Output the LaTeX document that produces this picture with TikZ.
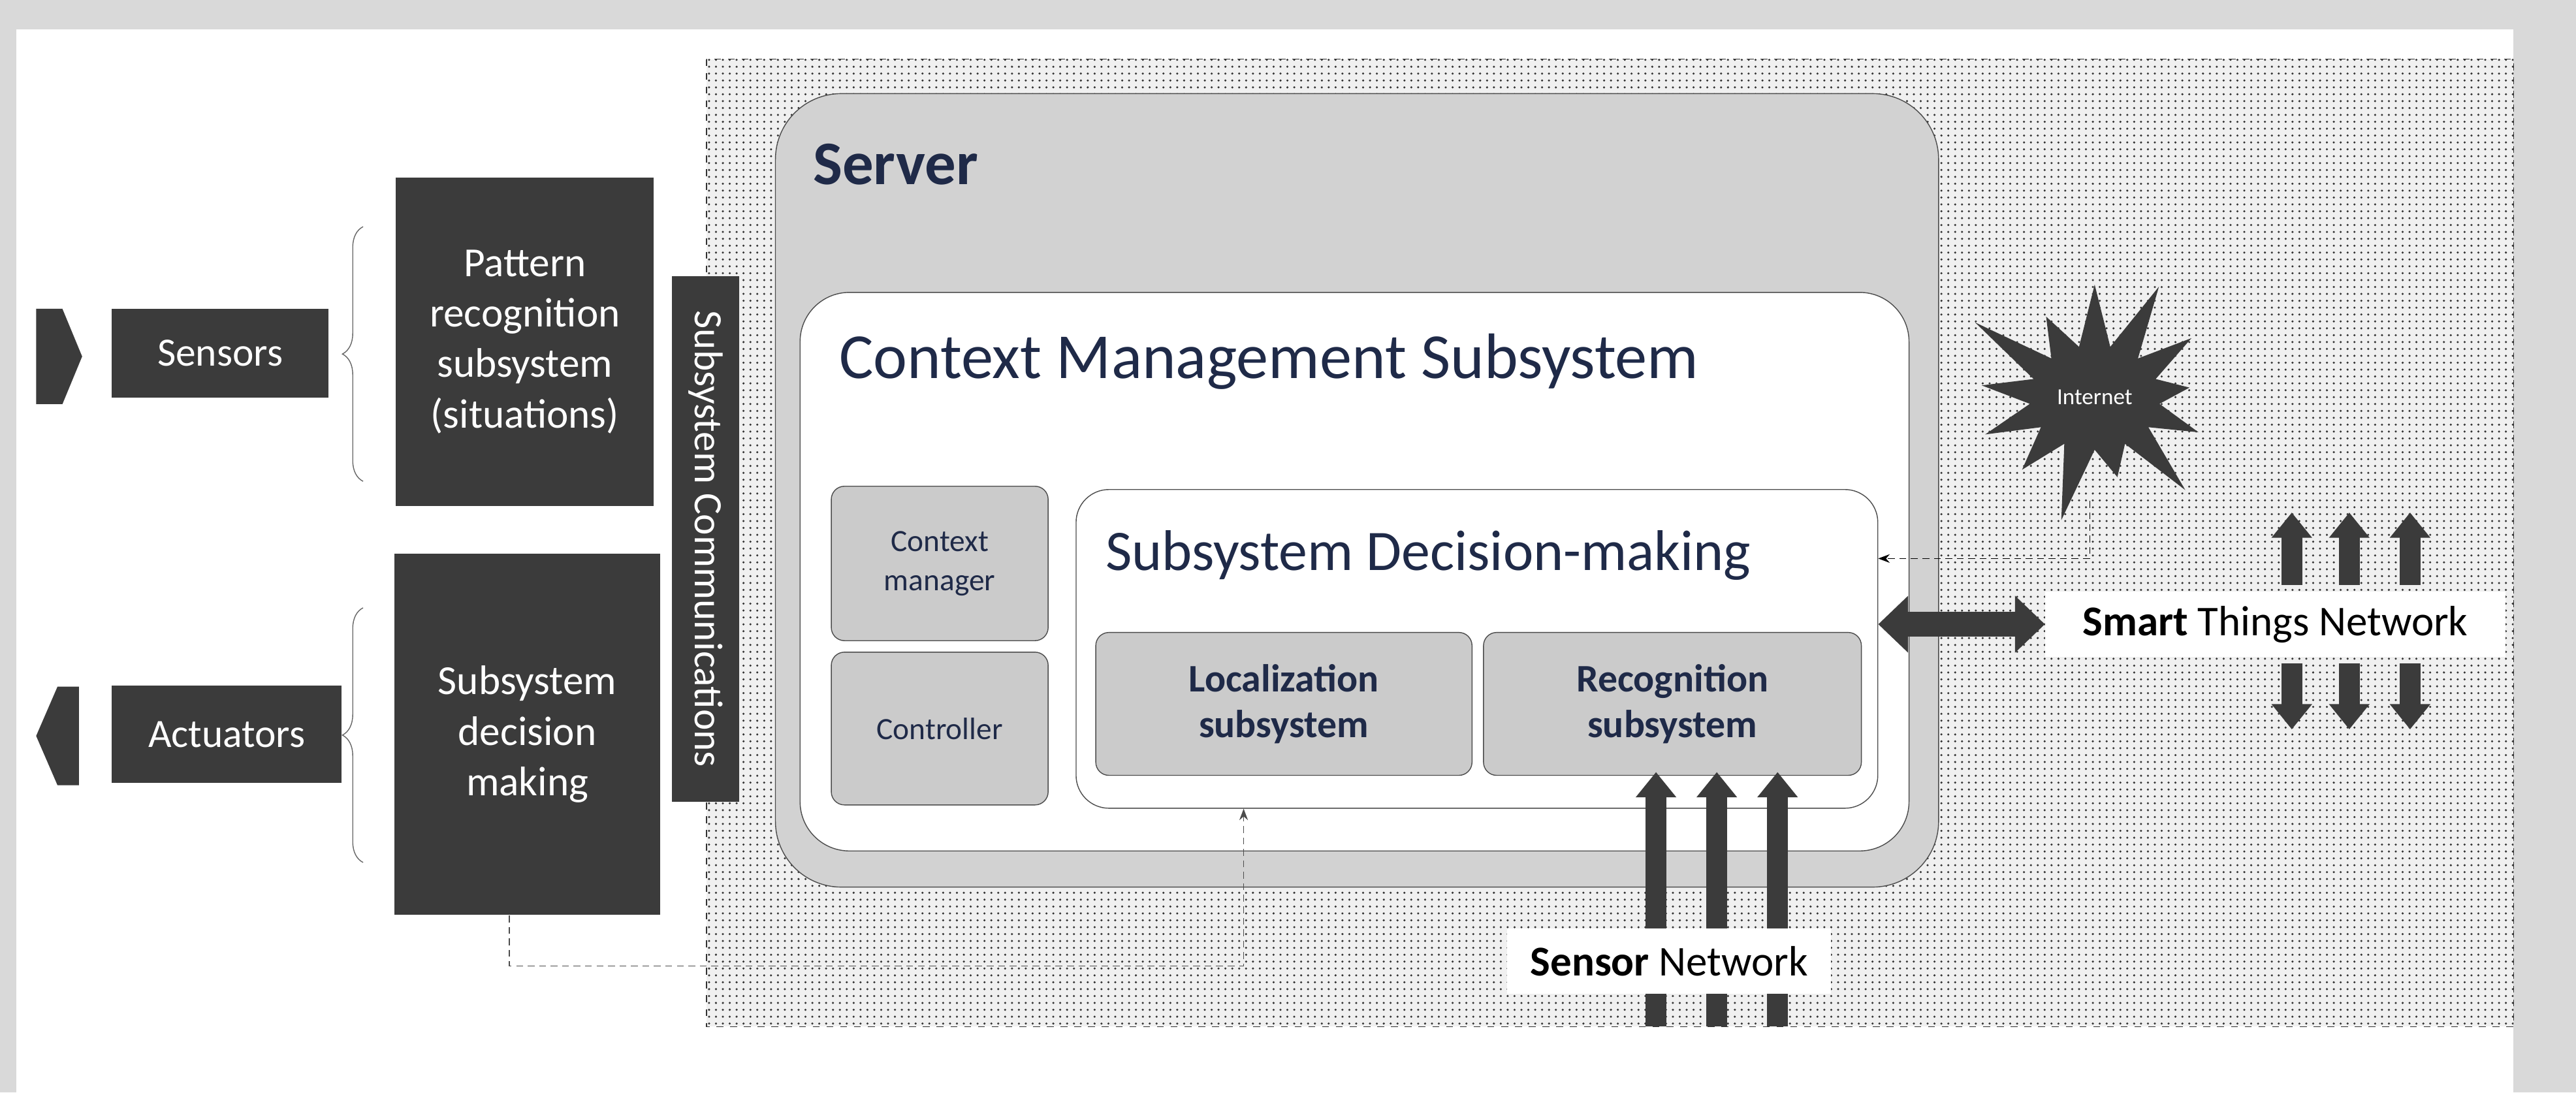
\documentclass[tikz,border=0pt]{standalone}
\usepackage{fontspec}
\setmainfont{Carlito}
\usetikzlibrary{arrows.meta,patterns,shapes.symbols,decorations.pathreplacing}
\newcommand\px{0.02516cm}
\definecolor{darkbox}{HTML}{3B3B3B}
\definecolor{navy}{HTML}{1F2A48}
\definecolor{srvgray}{HTML}{D2D2D2}
\definecolor{subgray}{HTML}{CBCBCB}

\begin{document}
\begin{tikzpicture}[x=\px,y=-\px,
    dark/.style={rectangle,fill=darkbox,text=white,align=center,inner sep=0pt},
    round/.style={rectangle,draw=black!70,rounded corners=#1,inner sep=0pt},
    sub/.style={round=8*\px,fill=subgray,align=center,text=navy},
    fat/.style={line width=9pt,-{Triangle[width=17pt,length=11pt]},draw=darkbox},
    every node/.style={font=\fontsize{17.5}{21}\selectfont}]
  % frame
  \fill[black!15] (0,0) rectangle (1568,665);
  \fill[white] (10,18) rectangle (1530,665);
  \useasboundingbox (0,0) rectangle (1568,665);
  % dotted area
  \fill[black!6] (430,36) rectangle (1530,625);
  \fill[pattern=dots,pattern color=black!80] (430,36) rectangle (1530,625);
  \draw[dashed,black!80] (430,36) rectangle (1530,625);

  % server
  \node[round=40*\px,fill=srvgray,minimum width=708*\px,minimum height=483*\px] (server) at (826,298.5) {};
  \node[anchor=west,text=navy,font=\fontsize{27}{30}\bfseries] (srvlbl) at (490,100) {Server};
  \node[round=30*\px,fill=white,minimum width=675*\px,minimum height=340*\px] (cms) at (824.5,348) {};
  \node[anchor=west,text=navy,font=\fontsize{28}{31}\selectfont] (cmslbl) at (506,220) {Context Management Subsystem};
  \node[sub,minimum width=132*\px,minimum height=94*\px,font=\fontsize{13.5}{17}\selectfont] (cmgr) at (572,343) {Context\\manager};
  \node[sub,minimum width=132*\px,minimum height=93*\px,font=\fontsize{13.5}{17}\selectfont] (ctrl) at (572,443.5) {Controller};
  \node[round=20*\px,fill=white,minimum width=488*\px,minimum height=194*\px] (sdm) at (899,395) {};
  \node[anchor=west,text=navy,font=\fontsize{25}{28}\selectfont] (sdmlbl) at (668,338) {Subsystem Decision-making};
  \node[sub,minimum width=229*\px,minimum height=87*\px,font=\fontsize{17}{20}\bfseries] (loc) at (781.5,428.5) {Localization\\subsystem};
  \node[sub,minimum width=230*\px,minimum height=87*\px,font=\fontsize{17}{20}\bfseries] (rec) at (1018,428.5) {Recognition\\subsystem};

  % left side
  \fill[darkbox] (22,188) -- (38,188) -- (50,217) -- (38,246) -- (22,246) -- cycle;
  \fill[darkbox] (48,418) -- (35,418) -- (22,448) -- (35,478) -- (48,478) -- cycle;
  \node[dark,minimum width=132*\px,minimum height=54*\px] (sens) at (134,215) {Sensors};
  \node[dark,minimum width=140*\px,minimum height=59*\px] (act) at (138,447) {Actuators};
  \draw[black!60,decorate,decoration={brace,amplitude=9pt}] (221,293) -- (221,138);
  \draw[black!60,decorate,decoration={brace,amplitude=9pt}] (221,525) -- (221,370);
  \node[dark,minimum width=157*\px,minimum height=200*\px,font=\fontsize{18}{22}\selectfont] (pat) at (319.5,208) {Pattern\\recognition\\subsystem\\(situations)};
  \node[dark,minimum width=162*\px,minimum height=220*\px,font=\fontsize{18}{22}\selectfont] (dec) at (321,447) {Subsystem\\decision\\making};
  \node[dark,minimum width=41*\px,minimum height=320*\px] (comm) at (429.5,328) {};
  \node[rotate=-90,text=white] (commlbl) at (comm) {Subsystem Communications};

  % internet and smart things
  \node[starburst,starburst points=13,starburst point height=1.3cm,fill=darkbox,minimum width=4.6cm,minimum height=4.2cm,text=white,font=\fontsize{10}{12}\selectfont] (inet) at (1275,242) {Internet};
  \coordinate (bend) at (1272,340);
  \draw[densely dashed,-{Stealth[length=5pt]}] (1272,305) -- (bend) -- (sdm.east |- bend);
  \node[fill=white,minimum width=280*\px,minimum height=40*\px,font=\fontsize{18.5}{21}\selectfont] (stn) at (1385,380) {\textbf{Smart} Things Network};
  \draw[line width=11pt,{Triangle[width=24pt,length=13pt]}-{Triangle[width=24pt,length=13pt]},draw=darkbox] (sdm.east |- stn) -- (stn.west);
  \foreach \x in {1395,1430,1467} {
    \draw[fat] (\x,356) -- (\x,312);
    \draw[fat] (\x,404) -- (\x,444);
  }

  % sensor network
  \foreach \x in {1008,1045,1082} \draw[fat] (\x,625) -- (\x,470);
  \node[fill=white,minimum width=197*\px,minimum height=40*\px,font=\fontsize{18.5}{21}\selectfont] (sn) at (1016,585) {\textbf{Sensor} Network};

  % feedback
  \coordinate (fb) at (310,588);
  \draw[densely dashed,black!70,-{Stealth[length=5pt]}] (dec.south -| fb) -- (fb) -- (757,588) -- (sdm.south -| 757,0);
\end{tikzpicture}
\end{document}
